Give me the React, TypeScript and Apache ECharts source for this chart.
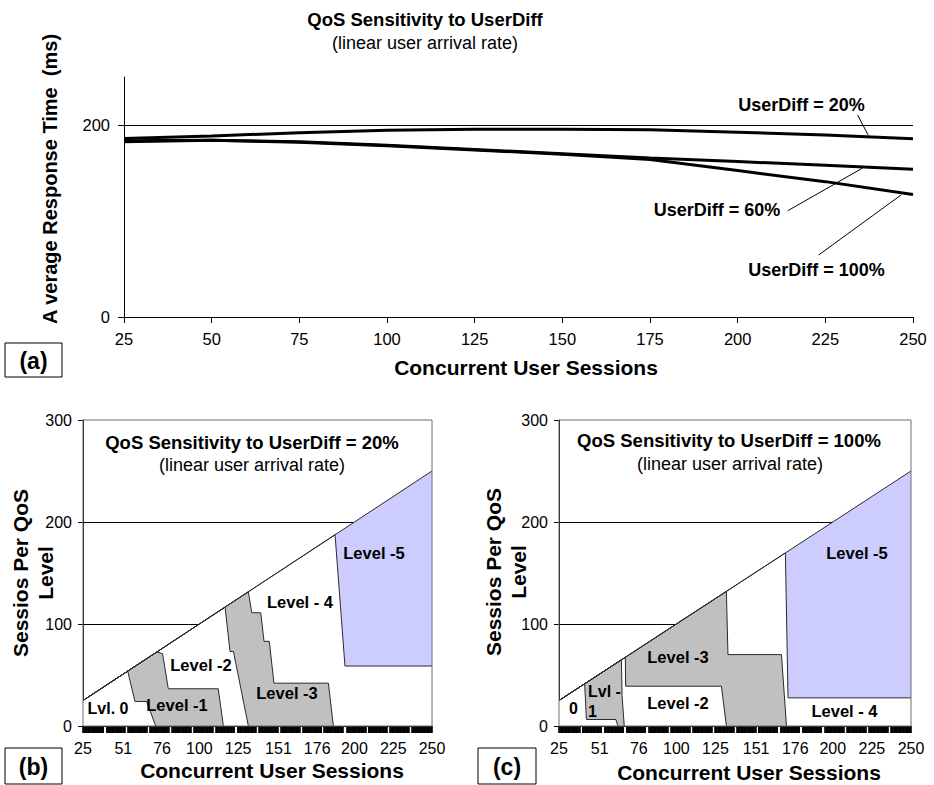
import React, { useEffect, useRef } from "react";
import * as echarts from "echarts";

// ---------- Chart (a): average response time ----------
const sessionsA = [25, 50, 75, 100, 125, 150, 175, 200, 225, 250];
const userDiff20 = [186, 188.5, 192, 194.5, 195.5, 195.5, 195, 192.5, 189.5, 185.7];
const userDiff60 = [183.5, 184, 182.5, 179, 174.5, 170, 165.5, 162, 158, 154];
const userDiff100 = [182.5, 184, 182, 178.5, 174, 169.5, 164, 152.5, 141, 127.5];
const yLabelsA = [0, 200];
const gridLineA = 200;
// leader lines (data coordinates) from label to curve
const leader20 = [[234.2, 210.4], [237.2, 189.6]];
const leader60 = [[214.3, 110.7], [235.5, 154.9]];
const leader100 = [[223.1, 64.6], [246.6, 127.1]];

// ---------- Charts (b) and (c): sessions per QoS level ----------
const xLabelsBC = [25, 51, 76, 100, 125, 151, 176, 200, 225, 250];
// total sessions (diagonal)
const totalSessions = [[25, 25], [250, 250]];
// (b) UserDiff = 20% : cumulative top of each level
const b_topLvl0 = [[25, 25], [53.8, 53.8], [58.5, 24], [66, 24], [71.9, 0]];
const b_topLvl1 = [[25, 25], [72.5, 72.5], [76.3, 71], [80, 36.5], [112.2, 36.5], [115.5, 0]];
const b_topLvl2 = [[25, 25], [116.6, 116.6], [119.8, 73], [122, 73], [131.6, 0]];
const b_topLvl3 = [[25, 25], [131.6, 131.6], [133.8, 111], [139.6, 111], [141.7, 83], [145.1, 83], [148.1, 42], [183.2, 42], [186.4, 0]];
const b_topLvl4 = [[25, 25], [187.5, 187.5], [193.9, 58.8], [250, 58.8]];
// (c) UserDiff = 100%
const c_topLvl0 = [[25, 25], [41.4, 41.4], [42.5, 6.4], [61.3, 6.4], [62.7, 0]];
const c_topLvl1 = [[25, 25], [64.9, 64.9], [65.3, 30], [66.7, 0]];
const c_topLvl2 = [[25, 25], [67.4, 67.4], [67.6, 39], [128.8, 39], [132, 0]];
const c_topLvl3 = [[25, 25], [132, 132], [133, 70], [167.2, 70], [170.4, 0]];
const c_topLvl4 = [[25, 25], [169.7, 169.7], [171.4, 27.6], [250, 27.6]];

const FONT = "'Liberation Sans', Arial, Helvetica, sans-serif";
const GRAY = "#c0c0c0";
const BLUE = "#ccccff";
const EDGE = "#2a2a2a";

// dense ticks forming the black band under axes (b),(c)
const bandTicks: number[] = [];
{
  const seg = 225 / 16;
  for (let v = 25; v <= 250.001; v += 0.5) {
    const k = (v - 25) / seg;
    const r = Math.round(k);
    if (r > 0 && r < 16 && Math.abs(k - r) * seg < 0.8) continue;
    bandTicks.push(v);
  }
}

function text(x: number, y: number, t: string, size: number, bold = true, extra: any = {}) {
  return {
    type: "text",
    x,
    y,
    z: 100,
    ...extra,
    style: {
      text: t,
      fill: "#000",
      fontSize: size,
      fontWeight: bold ? "bold" : "normal",
      fontFamily: FONT,
      align: "center",
      verticalAlign: "middle",
      ...(extra.style || {}),
    },
  };
}

function boxLabel(x: number, y: number, w: number, h: number, t: string) {
  return [
    { type: "rect", z: 99, shape: { x, y, width: w, height: h }, style: { fill: "#fff", stroke: "#000", lineWidth: 1 } },
    text(x + w / 2, y + h / 2 + 1, t, 23, true),
  ];
}

function areaSeries(idx: number, data: number[][], fill: string) {
  return {
    type: "line",
    xAxisIndex: idx,
    yAxisIndex: idx,
    data,
    symbol: "none",
    silent: true,
    lineStyle: { color: EDGE, width: 1 },
    areaStyle: { color: fill, opacity: 1 },
  };
}

function levelSeries(idx: number, tops: number[][][]) {
  return [
    areaSeries(idx, totalSessions, BLUE),
    areaSeries(idx, tops[4], "#ffffff"),
    areaSeries(idx, tops[3], GRAY),
    areaSeries(idx, tops[2], "#ffffff"),
    areaSeries(idx, tops[1], GRAY),
    areaSeries(idx, tops[0], "#ffffff"),
  ];
}

function bcXAxis(idx: number) {
  return {
    gridIndex: idx,
    type: "value",
    min: 25,
    max: 250,
    axisLine: { lineStyle: { color: "#000", width: 1 } },
    axisTick: { show: true, customValues: bandTicks, length: 7, lineStyle: { color: "#000", width: 1.6 } },
    axisLabel: { customValues: xLabelsBC, color: "#000", fontSize: 16, fontFamily: FONT, margin: 14 },
    splitLine: { show: false },
  };
}

function bcYAxis(idx: number) {
  return {
    gridIndex: idx,
    type: "value",
    min: 0,
    max: 300,
    interval: 100,
    axisLine: { show: true, lineStyle: { color: "#000", width: 1 } },
    axisTick: { show: true, length: 5, lineStyle: { color: "#000" } },
    axisLabel: { color: "#000", fontSize: 16, fontFamily: FONT, margin: 11 },
    splitLine: { show: true, showMinLine: false, showMaxLine: false, lineStyle: { color: "#000", width: 1 } },
  };
}

const lineA = (data: number[]) => sessionsA.map((s, i) => [s, data[i]]);

const option: any = {
  animation: false,
  backgroundColor: "#fff",
  grid: [
    { left: 124, top: 77, width: 789, height: 240, show: false },
    { left: 83, top: 420, width: 349, height: 306, show: true, borderColor: "#6e6e6e", borderWidth: 1, backgroundColor: "transparent", z: 5 },
    { left: 559, top: 420, width: 352, height: 306, show: true, borderColor: "#6e6e6e", borderWidth: 1, backgroundColor: "transparent", z: 5 },
  ],
  xAxis: [
    {
      gridIndex: 0,
      type: "value",
      min: 25,
      max: 250,
      interval: 25,
      axisLine: { lineStyle: { color: "#000", width: 1 } },
      axisTick: { show: true, length: 6, lineStyle: { color: "#000" } },
      axisLabel: { color: "#000", fontSize: 16.5, fontFamily: FONT, margin: 13 },
      splitLine: { show: false },
    },
    bcXAxis(1),
    bcXAxis(2),
  ],
  yAxis: [
    {
      gridIndex: 0,
      type: "value",
      min: 0,
      max: 250,
      axisLine: { show: true, lineStyle: { color: "#000", width: 1 } },
      axisTick: { show: true, customValues: yLabelsA, length: 6, lineStyle: { color: "#000" } },
      axisLabel: { customValues: yLabelsA, color: "#000", fontSize: 16.5, fontFamily: FONT, margin: 14 },
      splitLine: { show: false },
    },
    bcYAxis(1),
    bcYAxis(2),
  ],
  series: [
    {
      name: "UserDiff = 20%",
      type: "line",
      xAxisIndex: 0,
      yAxisIndex: 0,
      data: lineA(userDiff20),
      symbol: "none",
      silent: true,
      lineStyle: { color: "#000", width: 3 },
      markLine: {
        silent: true,
        symbol: ["none", "none"],
        label: { show: false },
        lineStyle: { color: "#000", width: 1, type: "solid" },
        data: [
          { yAxis: gridLineA },
          [{ coord: leader20[0] }, { coord: leader20[1] }],
          [{ coord: leader60[0] }, { coord: leader60[1] }],
          [{ coord: leader100[0] }, { coord: leader100[1] }],
        ],
      },
    },
    {
      name: "UserDiff = 60%",
      type: "line",
      xAxisIndex: 0,
      yAxisIndex: 0,
      data: lineA(userDiff60),
      symbol: "none",
      silent: true,
      lineStyle: { color: "#000", width: 3 },
    },
    {
      name: "UserDiff = 100%",
      type: "line",
      xAxisIndex: 0,
      yAxisIndex: 0,
      data: lineA(userDiff100),
      symbol: "none",
      silent: true,
      lineStyle: { color: "#000", width: 3 },
    },
    ...levelSeries(1, [b_topLvl0, b_topLvl1, b_topLvl2, b_topLvl3, b_topLvl4]),
    ...levelSeries(2, [c_topLvl0, c_topLvl1, c_topLvl2, c_topLvl3, c_topLvl4]),
  ],
  graphic: [
    // chart (a)
    text(425, 19, "QoS Sensitivity to UserDiff", 18.5, true),
    text(425, 43, "(linear user arrival rate)", 18, false),
    text(50, 179, "A verage Response Time  (ms)", 20, true, { rotation: Math.PI / 2 }),
    text(526, 367, "Concurrent User Sessions", 21, true),
    text(801.5, 105, "UserDiff = 20%", 18, true),
    text(717, 210, "UserDiff = 60%", 18, true),
    text(816.5, 270, "UserDiff = 100%", 18, true),
    ...boxLabel(5, 343, 57, 34, "(a)"),
    // chart (b)
    text(252, 442, "QoS Sensitivity to UserDiff = 20%", 18.5, true),
    text(252, 465, "(linear user arrival rate)", 18, false),
    text(33, 573, "Sessios Per QoS\nLevel", 21, true, { rotation: Math.PI / 2, style: { lineHeight: 25 } }),
    text(272, 770, "Concurrent User Sessions", 21, true),
    text(108, 708, "Lvl. 0", 16, true),
    text(177, 705, "Level -1", 16.5, true),
    text(201, 665, "Level -2", 16.5, true),
    text(287, 693, "Level -3", 16.5, true),
    text(300, 602, "Level - 4", 16.5, true),
    text(374, 553, "Level -5", 16.5, true),
    ...boxLabel(5, 748, 57, 36, "(b)"),
    // chart (c)
    text(729, 440, "QoS Sensitivity to UserDiff = 100%", 18.5, true),
    text(730, 464, "(linear user arrival rate)", 18, false),
    text(506, 572, "Sessios Per QoS\nLevel", 21, true, { rotation: Math.PI / 2, style: { lineHeight: 25 } }),
    text(749, 772, "Concurrent User Sessions", 21, true),
    text(573.5, 708, "0", 16, true),
    text(588, 701, "Lvl -\n1", 16, true, { style: { align: "left", lineHeight: 20 } }),
    text(678, 657, "Level -3", 16.5, true),
    text(678, 703, "Level -2", 16.5, true),
    text(857, 553, "Level -5", 16.5, true),
    text(844.5, 711, "Level - 4", 16.5, true),
    ...boxLabel(478, 748, 58, 36, "(c)"),
  ],
};

export default function App() {
  const ref = useRef<HTMLDivElement>(null);
  useEffect(() => {
    if (!ref.current) return;
    const chart = echarts.init(ref.current, null, { renderer: "svg" });
    chart.setOption(option);
    return () => chart.dispose();
  }, []);
  return (
    <div
      ref={ref}
      style={{ position: "absolute", left: 0, top: 0, width: 934, height: 785, background: "#fff" }}
    />
  );
}
